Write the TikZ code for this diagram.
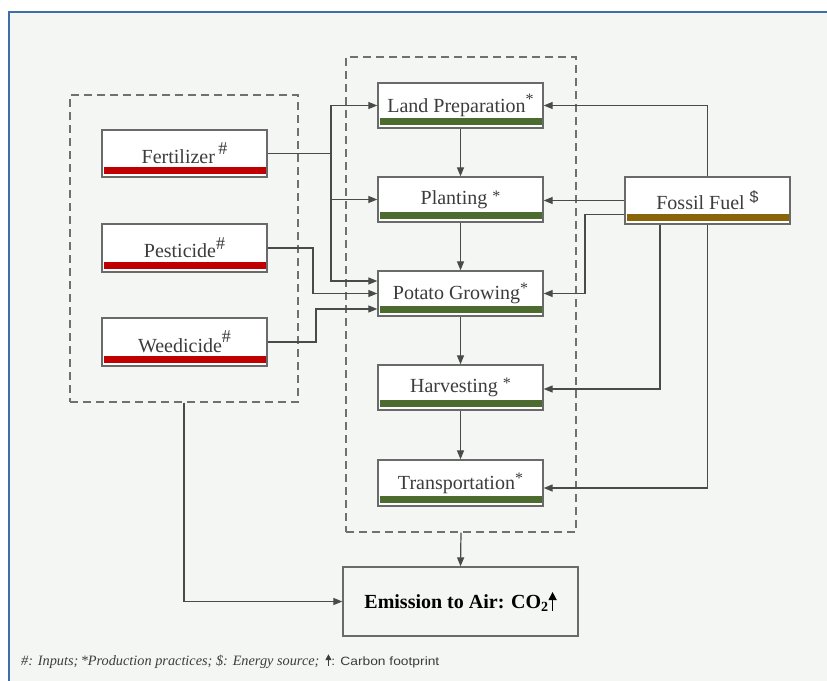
\documentclass[tikz,border=0pt]{standalone}
\usepackage{fontspec}
\setmainfont{Liberation Serif}
\setsansfont{Liberation Sans}
\usetikzlibrary{arrows.meta}
\definecolor{framebg}{HTML}{F4F6F3}
\definecolor{frameblue}{HTML}{3F6EA8}
\definecolor{boxgray}{HTML}{6A6A6A}
\definecolor{linegray}{HTML}{4A4A4A}
\definecolor{dashgray}{HTML}{707070}
\definecolor{inred}{HTML}{C00000}
\definecolor{procgreen}{HTML}{4B6B2F}
\definecolor{fuelbrown}{HTML}{8A6408}
\definecolor{txtgray}{HTML}{3C3C3C}
\tikzset{
  colorbar/.style={path picture={\fill[#1] ([xshift=1.5pt,yshift=3pt]path picture bounding box.south west) rectangle ([xshift=-1.5pt,yshift=10pt]path picture bounding box.south east);}},
  stagebox/.style={draw=boxgray, fill=white, line width=1.3pt, minimum width=165pt, minimum height=46pt, inner sep=0pt, text=txtgray, font=\fontsize{20}{22}\selectfont, colorbar=#1},
  groupbox/.style={draw=dashgray, line width=1.4pt, dash pattern=on 8pt off 5pt, inner sep=0pt},
  conn/.style={draw=linegray, line width=1.2pt},
  arr/.style={conn, -{Triangle[length=9pt,width=7pt]}},
}
\newcommand{\upmark}[1]{\raisebox{#1}{\fontsize{16}{16}\selectfont *}}
\newcommand{\hashmark}[1]{\raisebox{#1}{\fontsize{18}{18}\selectfont\#}}
\begin{document}
\begin{tikzpicture}[x=1pt,y=-1pt]
\useasboundingbox (0,0) rectangle (827,680);
\fill[white] (0,0) rectangle (827,680);
\draw[frameblue, line width=2.5pt, fill=framebg] (9,12) rectangle (840,695);

% groups
\node[groupbox, minimum width=228pt, minimum height=307pt] (inputs) at (184,248.5) {};
\node[groupbox, minimum width=230pt, minimum height=475pt] (proc) at (461,294.5) {};

% inputs
\node[stagebox=inred, minimum height=47pt] (fert) at (184.5,153.5) {Fertilizer\,\hashmark{9pt}};
\node[stagebox=inred, minimum height=48pt] (pest) at (184.5,248) {Pesticide\hashmark{8pt}};
\node[stagebox=inred, minimum height=48pt] (weed) at (184.5,342) {Weedicide\hashmark{10pt}};

% processes
\node[stagebox=procgreen, minimum height=45pt] (lp) at (460.5,105.5) {Land Preparation\upmark{8pt}};
\node[stagebox=procgreen, minimum height=45pt] (pl) at (460.5,199.5) {Planting \upmark{3pt}};
\node[stagebox=procgreen, minimum height=45pt] (pg) at (460.5,293.5) {Potato Growing\upmark{6pt}};
\node[stagebox=procgreen, minimum height=45pt] (hv) at (460.5,387.5) {Harvesting \upmark{4pt}};
\node[stagebox=procgreen, minimum height=46pt] (tr) at (460.5,483) {Transportation\upmark{6pt}};

% energy
\node[stagebox=fuelbrown, minimum height=47pt] (ff) at (707.5,200.5) {Fossil Fuel \raisebox{7pt}{\sffamily\fontsize{16}{16}\selectfont\$}};

% emission
\node[draw=boxgray, fill=framebg, line width=1.3pt, minimum width=235pt, minimum height=69pt, text=black, font=\bfseries\fontsize{20}{22}\selectfont] (em) at (460.5,601.5) {Emission to Air: CO\textsubscript{2}\tikz[baseline=0pt]{\draw[line width=1.3pt, -{Triangle[length=8pt,width=8pt]}] (0pt,-3pt) -- (0pt,16pt);}};

% vertical chain
\draw[arr] (lp) -- (pl);
\draw[arr] (pl) -- (pg);
\draw[arr] (pg) -- (hv);
\draw[arr] (hv) -- (tr);
\draw[arr] (proc.south) -- (em.north);
\draw[arr] (inputs.south) |- (em.west);

% inputs to processes
\coordinate (fj) at (331,153.5);
\draw[conn] (fert.east) -- (fj);
\draw[arr] (fj) |- (lp.west);
\draw[arr] (fj) |- (pl.west);
\draw[arr] (fj) |- ([yshift=12.5pt]pg.west);
\coordinate (pj) at (313,248);
\draw[arr] (pest.east) -- (pj) |- (pg.west);
\coordinate (wj) at (316,342);
\draw[arr] (weed.east) -- (wj) |- ([yshift=-15.5pt]pg.west);

% fossil fuel to processes
\draw[arr] (ff.north) |- (lp.east);
\draw[arr] (ff.west) -- (ff.west -| pl.east);
\coordinate (fpg) at (585,214.5);
\draw[arr] ([yshift=-14pt]ff.west) -- (fpg) |- (pg.east);
\draw[arr] ([xshift=-47.5pt]ff.south) |- ([yshift=-1.5pt]hv.east);
\draw[arr] (ff.south) |- ([yshift=-5pt]tr.east);

% legend
\node[anchor=west, inner sep=0pt, text=txtgray] (legend) at (21,661) {{\itshape\fontsize{14.3}{14}\selectfont \#: Inputs;\,*Production practices; \$: Energy source;}\hspace{6pt}\tikz[baseline=0pt]{\draw[line width=1pt, -{Triangle[length=6pt,width=6pt]}] (0pt,-1pt) -- (0pt,11pt);}\scalebox{1.15}[1]{\sffamily\fontsize{12}{12}\selectfont : Carbon footprint}};
\end{tikzpicture}
\end{document}
